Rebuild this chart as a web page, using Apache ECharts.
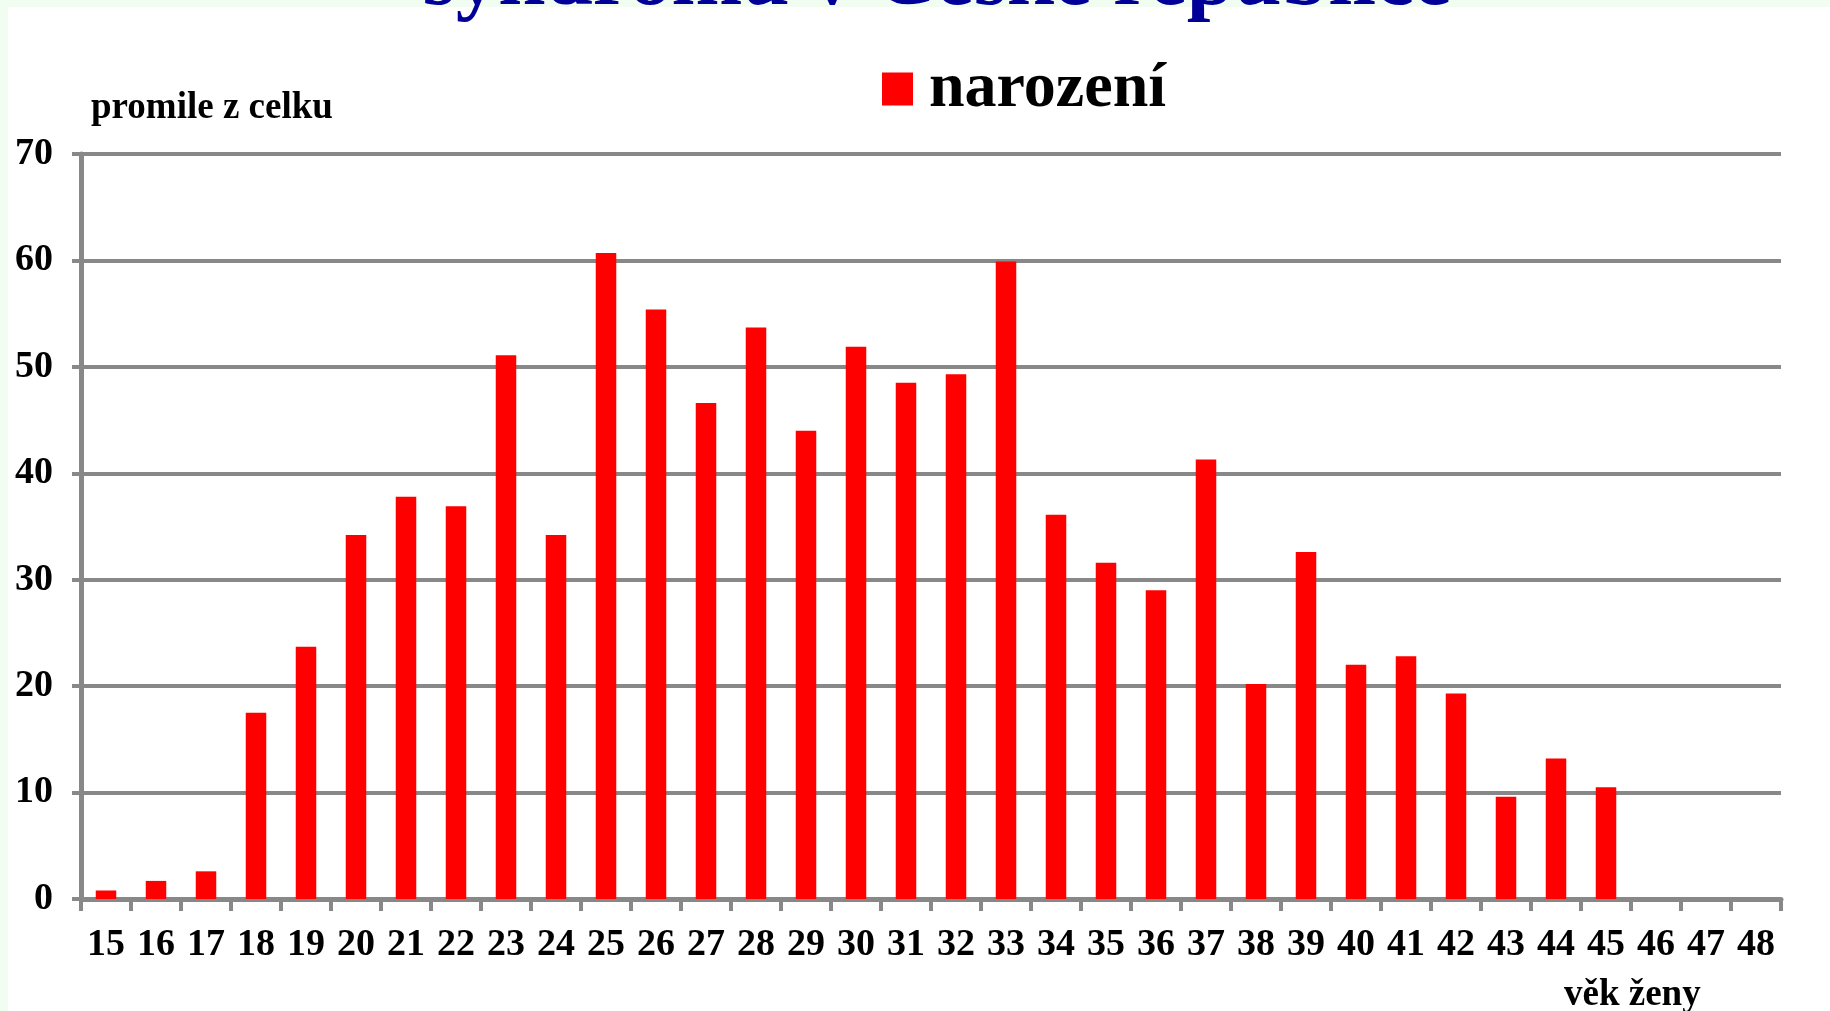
<!DOCTYPE html>
<html>
<head>
<meta charset="utf-8">
<script src="https://cdn.jsdelivr.net/npm/echarts@6/dist/echarts.min.js"></script>
<style>
  html, body { margin: 0; padding: 0; background: #f2fdf2; }
  #main { width: 1830px; height: 1011px; }
</style>
</head>
<body>
<div id="main"></div>
<script>
// vek zeny (kategorie na ose x)
var ages = ['15','16','17','18','19','20','21','22','23','24','25','26','27','28','29','30',
            '31','32','33','34','35','36','37','38','39','40','41','42','43','44','45','46','47','48'];
// promile z celku
var births = [0.8, 1.7, 2.6, 17.5, 23.7, 34.2, 37.8, 36.9, 51.1, 34.2, 60.7, 55.4, 46.6, 53.7, 44.0, 51.9,
              48.5, 49.3, 59.9, 36.1, 31.6, 29.0, 41.3, 20.2, 32.6, 22.0, 22.8, 19.3, 9.6, 13.2, 10.5, null, null, null];
var seriesName = 'narození';

var serif = "'Liberation Serif', 'Times New Roman', serif";
var gray = '#888888';

var option = {
    backgroundColor: '#f2fdf2',
    animation: false,
    graphic: [
        {
            type: 'rect', z: -10, silent: true,
            shape: { x: 8, y: 7, width: 1822, height: 1004 },
            style: { fill: '#ffffff' }
        },
        {
            type: 'text', z: 10,
            x: 937, y: -18,
            style: {
                text: 'syndromu v České republice',
                font: 'bold 85px ' + serif,
                fill: '#000099',
                align: 'center',
                verticalAlign: 'middle'
            }
        },
        {
            type: 'text', z: 10,
            x: 91, y: 108,
            style: {
                text: 'promile z celku',
                font: 'bold 37px ' + serif,
                fill: '#000000',
                align: 'left',
                verticalAlign: 'middle'
            }
        },
        {
            type: 'text', z: 10,
            x: 1564, y: 995,
            style: {
                text: 'věk ženy',
                font: 'bold 37px ' + serif,
                fill: '#000000',
                align: 'left',
                verticalAlign: 'middle'
            }
        }
    ],
    legend: {
        left: 877,
        top: 52,
        itemWidth: 31,
        itemHeight: 33,
        icon: 'rect',
        data: [seriesName],
        textStyle: {
            fontFamily: serif,
            fontWeight: 'bold',
            fontSize: 64,
            color: '#000000',
            padding: [0, 0, 0, 11]
        }
    },
    grid: {
        left: 81,
        right: 49,
        top: 154,
        bottom: 112,
        containLabel: false
    },
    xAxis: {
        type: 'category',
        data: ages,
        boundaryGap: true,
        axisLine: { lineStyle: { color: gray, width: 5 } },
        axisTick: { show: true, length: 12, lineStyle: { color: gray, width: 4 } },
        axisLabel: {
            margin: 27,
            interval: 0,
            fontFamily: serif,
            fontWeight: 'bold',
            fontSize: 38,
            color: '#000000'
        }
    },
    yAxis: {
        type: 'value',
        min: 0,
        max: 70,
        interval: 10,
        axisLine: { show: true, lineStyle: { color: gray, width: 5 } },
        axisTick: { show: true, length: 9, lineStyle: { color: gray, width: 4 } },
        splitLine: { lineStyle: { color: gray, width: 4 } },
        axisLabel: {
            margin: 28,
            fontFamily: serif,
            fontWeight: 'bold',
            fontSize: 38,
            color: '#000000'
        }
    },
    series: [
        {
            name: seriesName,
            type: 'bar',
            data: births,
            barWidth: '41%',
            itemStyle: { color: '#ff0000' }
        }
    ]
};

var myChart = echarts.init(document.getElementById('main'));
myChart.setOption(option);
</script>
</body>
</html>
